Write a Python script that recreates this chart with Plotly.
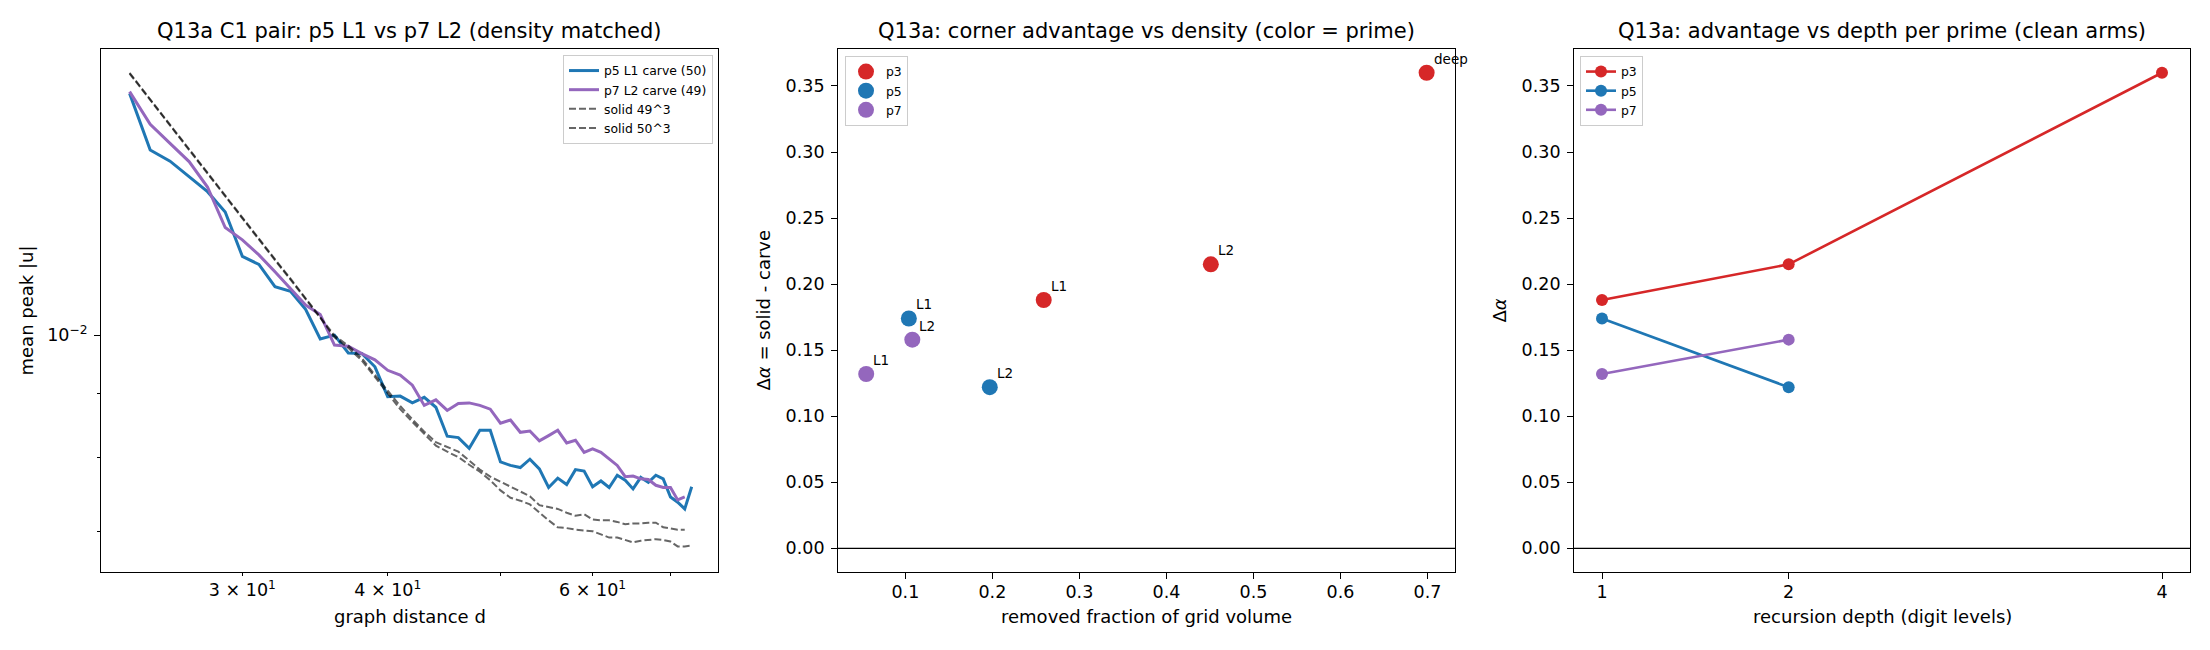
import math
import plotly.graph_objects as go

# ---------------- data ----------------
dist_p5 = [24, 25, 26, 27, 28, 29, 30, 31, 32, 33, 34, 35, 36, 37, 38, 39, 40, 41, 42, 43, 44, 45, 46, 47, 48,
           49, 50, 51, 52, 53, 54, 55, 56, 57, 58, 59, 60, 61, 62, 63, 64, 65, 66, 67, 68, 69, 70, 71, 72, 73]
peak_p5 = [0.01552, 0.01400, 0.01372, 0.01334, 0.01298, 0.01251, 0.01154, 0.01137, 0.01092, 0.01083,
           0.01048, 0.00993, 0.01000, 0.00968, 0.00967, 0.00944, 0.00894, 0.00895, 0.00884, 0.00893,
           0.00877, 0.00832, 0.00830, 0.00814, 0.00841, 0.00841, 0.00794, 0.00789, 0.00786, 0.00798,
           0.00784, 0.00758, 0.00771, 0.00762, 0.00783, 0.00781, 0.00759, 0.00767, 0.00758, 0.00775,
           0.00768, 0.00756, 0.00772, 0.00765, 0.00775, 0.00770, 0.00745, 0.00738, 0.00729, 0.00759]

dist_p7 = [24, 25, 26, 27, 28, 29, 30, 31, 32, 33, 34, 35, 36, 37, 38, 39, 40, 41, 42, 43, 44, 45, 46, 47, 48,
           49, 50, 51, 52, 53, 54, 55, 56, 57, 58, 59, 60, 61, 62, 63, 64, 65, 66, 67, 68, 69, 70, 71, 72]
peak_p7 = [0.01557, 0.01467, 0.01417, 0.01371, 0.01309, 0.01216, 0.01189, 0.01157, 0.01122, 0.01089,
           0.01056, 0.01038, 0.00982, 0.00980, 0.00967, 0.00956, 0.00938, 0.00930, 0.00913, 0.00880,
           0.00889, 0.00872, 0.00883, 0.00884, 0.00880, 0.00874, 0.00852, 0.00857, 0.00838, 0.00840,
           0.00825, 0.00833, 0.00841, 0.00822, 0.00826, 0.00808, 0.00813, 0.00808, 0.00799, 0.00789,
           0.00773, 0.00774, 0.00770, 0.00769, 0.00761, 0.00758, 0.00758, 0.00741, 0.00745]

dist_s49 = [24, 25, 26, 27, 28, 29, 30, 31, 32, 33, 34, 35, 36, 37, 38, 39, 40, 41, 42, 43, 44, 45, 46, 47, 48,
            49, 50, 51, 52, 53, 54, 55, 56, 57, 58, 59, 60, 61, 62, 63, 64, 65, 66, 67, 68, 69, 70, 71, 72]
peak_s49 = [0.01611, 0.01535, 0.01466, 0.01402, 0.01343, 0.01289, 0.01239, 0.01192, 0.01148, 0.01108,
            0.01070, 0.01034, 0.00999, 0.00981, 0.00959, 0.00930, 0.00903,
            0.00879, 0.00858, 0.00839, 0.00823, 0.00816, 0.00809, 0.00796, 0.00783, 0.00773, 0.00766,
            0.00759, 0.00753, 0.00746, 0.00734, 0.00731, 0.00729, 0.00724, 0.00720, 0.00722, 0.00715,
            0.00714, 0.00714, 0.00712, 0.00709, 0.00710, 0.00710, 0.00711, 0.00711, 0.00705, 0.00703,
            0.00702, 0.00702]

dist_s50 = [24, 25, 26, 27, 28, 29, 30, 31, 32, 33, 34, 35, 36, 37, 38, 39, 40, 41, 42, 43, 44, 45, 46, 47, 48,
            49, 50, 51, 52, 53, 54, 55, 56, 57, 58, 59, 60, 61, 62, 63, 64, 65, 66, 67, 68, 69, 70, 71, 72, 73]
peak_s50 = [0.01609, 0.01533, 0.01464, 0.01400, 0.01341, 0.01287, 0.01237, 0.01190, 0.01146, 0.01106,
            0.01068, 0.01032, 0.00996, 0.00977, 0.00955, 0.00926, 0.00899,
            0.00874, 0.00854, 0.00835, 0.00818, 0.00809, 0.00801, 0.00790, 0.00780, 0.00768, 0.00754,
            0.00744, 0.00740, 0.00735, 0.00724, 0.00714, 0.00705, 0.00704, 0.00702, 0.00701, 0.00700,
            0.00696, 0.00692, 0.00692, 0.00689, 0.00686, 0.00688, 0.00689, 0.00690, 0.00689, 0.00687,
            0.00681, 0.00681, 0.00682]

primes = ["p3", "p5", "p7"]
frac_p3 = [0.259, 0.451, 0.699]
frac_p5 = [0.104, 0.197]
frac_p7 = [0.055, 0.108]
dalpha_p3 = [0.188, 0.215, 0.360]
dalpha_p5 = [0.174, 0.122]
dalpha_p7 = [0.132, 0.158]
labels_p3 = ["L1", "L2", "deep"]
labels_p5 = ["L1", "L2"]
labels_p7 = ["L1", "L2"]
depth_p3 = [1, 2, 4]
depth_p5 = [1, 2]
depth_p7 = [1, 2]

left_xticks = [30, 40, 60]
left_xticktext = ["3 × 10<sup>1</sup>", "4 × 10<sup>1</sup>", "6 × 10<sup>1</sup>"]
left_xminor = [50, 70]
left_yticks = [0.01]
left_yticktext = ["10<sup>−2</sup>"]
left_yminor = [0.007, 0.008, 0.009]
da_ticks = [0.0, 0.05, 0.10, 0.15, 0.20, 0.25, 0.30, 0.35]
frac_ticks = [0.1, 0.2, 0.3, 0.4, 0.5, 0.6, 0.7]
depth_ticks = [1, 2, 4]

# ---------------- style ----------------
W, H = 2210, 650
FONT = "DejaVu Sans"
RED, BLUE, PURPLE = "#d62728", "#1f77b4", "#9467bd"
colors = {"p3": RED, "p5": BLUE, "p7": PURPLE}
TICK_FS, LABEL_FS, TITLE_FS, LEG_FS, ANN_FS = 17.5, 18, 21, 12.4, 13.5
AXW = 1.33


def fx(p):
    return p / W


def fy(p):
    return 1 - p / H


TOP, BOT = 49, 572
panels = [(101, 718), (838, 1455), (1574, 2190)]

fig = go.Figure()

# left panel
fig.add_trace(go.Scatter(x=dist_p5, y=peak_p5, mode="lines", name="p5 L1 carve (50)",
                         line=dict(color=BLUE, width=3), xaxis="x", yaxis="y", legend="legend"))
fig.add_trace(go.Scatter(x=dist_p7, y=peak_p7, mode="lines", name="p7 L2 carve (49)",
                         line=dict(color=PURPLE, width=3), xaxis="x", yaxis="y", legend="legend"))
fig.add_trace(go.Scatter(x=dist_s49, y=peak_s49, mode="lines", name="solid 49^3",
                         line=dict(color="rgba(0,0,0,0.6)", width=2, dash="7px,3px"),
                         xaxis="x", yaxis="y", legend="legend"))
fig.add_trace(go.Scatter(x=dist_s50, y=peak_s50, mode="lines", name="solid 50^3",
                         line=dict(color="rgba(0,0,0,0.6)", width=2, dash="7px,3px"),
                         xaxis="x", yaxis="y", legend="legend"))

# middle panel
mid = {"p3": (frac_p3, dalpha_p3, labels_p3), "p5": (frac_p5, dalpha_p5, labels_p5),
       "p7": (frac_p7, dalpha_p7, labels_p7)}
for p in primes:
    xs, ys, _ = mid[p]
    fig.add_trace(go.Scatter(x=xs, y=ys, mode="markers", name=p,
                             marker=dict(color=colors[p], size=16, line=dict(width=0)),
                             xaxis="x2", yaxis="y2", legend="legend2"))

# right panel
right = {"p3": (depth_p3, dalpha_p3), "p5": (depth_p5, dalpha_p5), "p7": (depth_p7, dalpha_p7)}
for p in primes:
    xs, ys = right[p]
    fig.add_trace(go.Scatter(x=xs, y=ys, mode="lines+markers", name=p,
                             line=dict(color=colors[p], width=2.6),
                             marker=dict(color=colors[p], size=12),
                             xaxis="x3", yaxis="y3", legend="legend3"))

axis_common = dict(showline=True, linecolor="black", linewidth=AXW, mirror=True,
                   ticks="outside", ticklen=5.8, tickwidth=AXW, tickcolor="black",
                   showgrid=False, zeroline=False,
                   tickfont=dict(family=FONT, size=TICK_FS, color="black"))

annotations = []
titles = ["Q13a C1 pair: p5 L1 vs p7 L2 (density matched)",
          "Q13a: corner advantage vs density (color = prime)",
          "Q13a: advantage vs depth per prime (clean arms)"]
for (l, r), t in zip(panels, titles):
    annotations.append(dict(text=t, x=fx((l + r) / 2), y=fy(31), xref="paper", yref="paper",
                            xanchor="center", yanchor="middle", showarrow=False,
                            font=dict(family=FONT, size=TITLE_FS, color="black")))
xtitles = ["graph distance d", "removed fraction of grid volume", "recursion depth (digit levels)"]
for (l, r), t in zip(panels, xtitles):
    annotations.append(dict(text=t, x=fx((l + r) / 2), y=fy(616), xref="paper", yref="paper",
                            xanchor="center", yanchor="middle", showarrow=False,
                            font=dict(family=FONT, size=LABEL_FS, color="black")))
ytitles = [("Δ<i>α</i> = solid - carve", 763), ("Δ<i>α</i>", 1499)]
for t, xp in ytitles:
    annotations.append(dict(text=t, x=fx(xp), y=fy((TOP + BOT) / 2), xref="paper", yref="paper",
                            xanchor="center", yanchor="middle", showarrow=False, textangle=-90,
                            font=dict(family=FONT, size=LABEL_FS, color="black")))
for p in primes:
    xs, ys, labs = mid[p]
    for xv, yv, lab in zip(xs, ys, labs):
        annotations.append(dict(text=lab, x=xv, y=yv, xref="x2", yref="y2",
                                xanchor="left", yanchor="bottom", xshift=5, yshift=4,
                                showarrow=False, font=dict(family=FONT, size=ANN_FS, color="black")))

legend_common = dict(font=dict(family=FONT, size=LEG_FS, color="black"),
                     bgcolor="rgba(255,255,255,0.8)", bordercolor="#cccccc", borderwidth=1,
                     yanchor="top", itemwidth=30)

fig.update_layout(
    width=W, height=H,
    margin=dict(l=0, r=0, t=0, b=0),
    paper_bgcolor="white", plot_bgcolor="white",
    font=dict(family=FONT, color="black"),
    xaxis=dict(axis_common, type="log", domain=[fx(panels[0][0]), fx(panels[0][1])],
               range=[math.log10(22.68), math.log10(76.9)],
               tickvals=left_xticks, ticktext=left_xticktext, ticklen=3.3,
               minor=dict(tickvals=left_xminor, ticks="outside", ticklen=3.3, tickwidth=AXW,
                          tickcolor="black", showgrid=False),
               ticklabelstandoff=-1, anchor="y"),
    yaxis=dict(axis_common, type="log", domain=[fy(BOT), fy(TOP)],
               range=[math.log10(0.006500), math.log10(0.016824)],
               tickvals=left_yticks, ticktext=left_yticktext,
               minor=dict(tickvals=left_yminor, ticks="outside", ticklen=3.3, tickwidth=AXW,
                          tickcolor="black", showgrid=False),
               title=dict(text="mean peak |u|", standoff=8,
                          font=dict(family=FONT, size=LABEL_FS, color="black")),
               ticklabelstandoff=3, anchor="x"),
    xaxis2=dict(axis_common, domain=[fx(panels[1][0]), fx(panels[1][1])],
                range=[0.0226, 0.7316], tickvals=frac_ticks,
                ticktext=[f"{v:.1f}" for v in frac_ticks], ticklabelstandoff=-2, anchor="y2"),
    yaxis2=dict(axis_common, domain=[fy(BOT), fy(TOP)], range=[-0.0179, 0.378],
                tickvals=da_ticks, ticktext=[f"{v:.2f}" for v in da_ticks],
                ticklabelstandoff=3, anchor="x2"),
    xaxis3=dict(axis_common, domain=[fx(panels[2][0]), fx(panels[2][1])],
                range=[0.85, 4.15], tickvals=depth_ticks,
                ticktext=[str(v) for v in depth_ticks], ticklabelstandoff=-2, anchor="y3"),
    yaxis3=dict(axis_common, domain=[fy(BOT), fy(TOP)], range=[-0.0179, 0.378],
                tickvals=da_ticks, ticktext=[f"{v:.2f}" for v in da_ticks],
                ticklabelstandoff=3, anchor="x3"),
    legend=dict(legend_common, x=fx(713), xanchor="right", y=fy(55)),
    legend2=dict(legend_common, x=fx(845), xanchor="left", y=fy(56)),
    legend3=dict(legend_common, x=fx(1580), xanchor="left", y=fy(56)),
    annotations=annotations,
    showlegend=True,
)

for xa, ya in (("x2", "y2"), ("x3", "y3")):
    fig.add_shape(type="line", xref=f"{xa} domain", yref=ya, x0=0, x1=1, y0=0, y1=0,
                  line=dict(color="black", width=1.2), layer="above")

fig.write_html("out.html", config={"displayModeBar": False},
               post_script="document.body.style.margin='0px';document.body.style.overflow='hidden';")
